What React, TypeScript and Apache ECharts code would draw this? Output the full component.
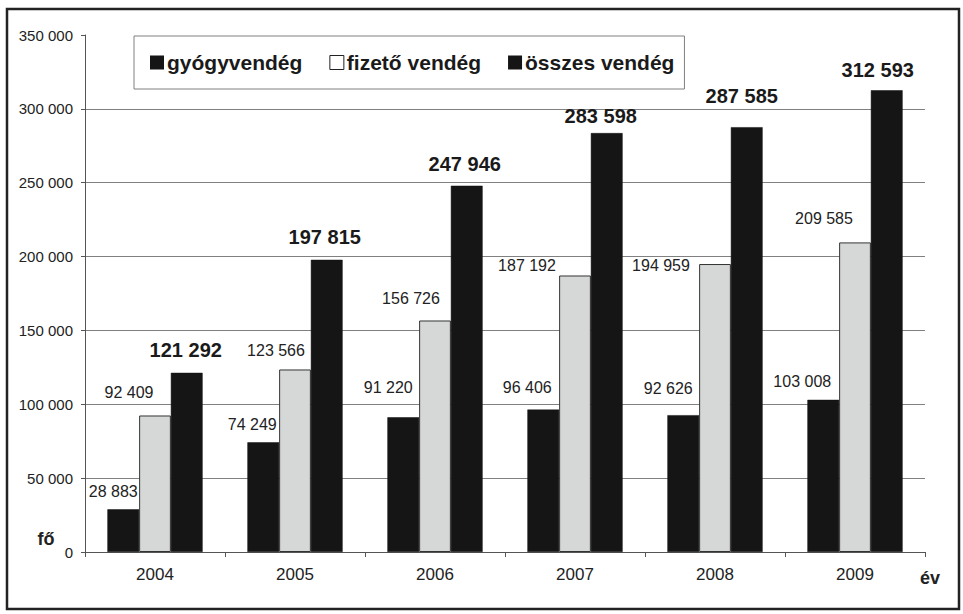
import React, { useEffect, useRef } from "react";
import * as echarts from "echarts";

const years = ["2004", "2005", "2006", "2007", "2008", "2009"];
const gyogyvendeg = [28883, 74249, 91220, 96406, 92626, 103008];
const fizetoVendeg = [92409, 123566, 156726, 187192, 194959, 209585];
const osszesVendeg = [121292, 197815, 247946, 283598, 287585, 312593];
const seriesNames = ["gyógyvendég", "fizető vendég", "összes vendég"];
const yMin = 0;
const yMax = 350000;
const yStep = 50000;

// label nudges (style only): [dx, px above bar top]
const gyogyLabelShift = [[-10, 18], [-11, 18], [-15, 30], [-16, 22], [-15, 27], [-21, 18]];
const fizetoLabelShift = [[-26, 23], [-19, 19], [-24, 22], [-48, 10], [-54, -1], [-31, 24]];
const osszesLabelShift = [[-1, 23], [-2, 23], [-2, 22], [-6, 17], [-5, 31], [-9, 20]];

const FONT = "Liberation Sans, Arial, sans-serif";
const DARK = "#151515";
const LIGHT = "#d6d8d8";
const TEXT = "#222";

const fmt = (n: number) => String(n).replace(/\B(?=(\d{3})+(?!\d))/g, " ");

function withShift(values: number[], shifts: number[][]) {
  return values.map((v, i) => ({
    value: v,
    label: { offset: [shifts[i][0], -shifts[i][1]] },
  }));
}

export default function App() {
  const ref = useRef<HTMLDivElement>(null);
  useEffect(() => {
    if (!ref.current) return;
    const chart = echarts.init(ref.current, undefined, { renderer: "svg" });
    const baseLabel = {
      show: true,
      position: "top",
      distance: 0,
      align: "center",
      verticalAlign: "middle",
      fontFamily: FONT,
      fontSize: 16,
      color: TEXT,
      formatter: (p: any) => fmt(p.value),
    };
    const gridColors = [];
    for (let v = yMin; v <= yMax; v += yStep) gridColors.push(v === yMax ? "rgba(0,0,0,0)" : "#808080");
    chart.setOption({
      animation: false,
      backgroundColor: "#fff",
      textStyle: { fontFamily: FONT },
      grid: { left: 85, right: 38, top: 35, bottom: 62, containLabel: false },
      legend: {
        left: 134,
        top: 36,
        padding: [16, 10, 16, 16],
        itemWidth: 14,
        itemHeight: 14,
        itemGap: 27,
        borderColor: "#808080",
        borderWidth: 1,
        backgroundColor: "#fff",
        textStyle: { fontFamily: FONT, fontSize: 21, fontWeight: "bold", color: "#1a1a1a", padding: [0, 0, 0, -2] },
        data: [
          { name: seriesNames[0], icon: "rect", itemStyle: { color: DARK, borderWidth: 0 } },
          { name: seriesNames[1], icon: "rect", itemStyle: { color: "#fff", borderColor: "#222", borderWidth: 1 } },
          { name: seriesNames[2], icon: "rect", itemStyle: { color: DARK, borderWidth: 0 } },
        ],
      },
      xAxis: {
        type: "category",
        data: years,
        axisLine: { lineStyle: { color: "#555", width: 1 } },
        axisTick: { show: true, length: 5, lineStyle: { color: "#555" } },
        axisLabel: { fontFamily: FONT, fontSize: 17, color: TEXT, margin: 14 },
      },
      yAxis: {
        type: "value",
        min: yMin,
        max: yMax,
        interval: yStep,
        axisLine: { show: true, lineStyle: { color: "#555", width: 1 } },
        axisTick: { show: true, length: 4, lineStyle: { color: "#555" } },
        axisLabel: { fontFamily: FONT, fontSize: 15, color: TEXT, margin: 12, formatter: (v: number) => fmt(v) },
        splitLine: { show: true, lineStyle: { color: gridColors, width: 1 } },
      },
      series: [
        {
          name: seriesNames[0],
          type: "bar",
          barGap: "0%",
          barCategoryGap: "32%",
          itemStyle: { color: DARK, borderColor: "#111", borderWidth: 0.5 },
          label: { ...baseLabel },
          data: withShift(gyogyvendeg, gyogyLabelShift),
        },
        {
          name: seriesNames[1],
          type: "bar",
          barGap: "0%",
          barCategoryGap: "32%",
          itemStyle: { color: LIGHT, borderColor: "#333", borderWidth: 1 },
          label: { ...baseLabel },
          data: withShift(fizetoVendeg, fizetoLabelShift),
        },
        {
          name: seriesNames[2],
          type: "bar",
          barGap: "0%",
          barCategoryGap: "32%",
          itemStyle: { color: DARK, borderColor: "#111", borderWidth: 0.5 },
          label: { ...baseLabel, fontSize: 20, fontWeight: "bold", color: "#1a1a1a" },
          data: withShift(osszesVendeg, osszesLabelShift),
        },
      ],
      graphic: [
        {
          type: "rect",
          shape: { x: 7, y: 9, width: 952, height: 600 },
          style: { fill: "none", stroke: "#222", lineWidth: 2.5 },
          silent: true,
          z: 100,
        },
        {
          type: "text",
          x: 46,
          y: 539,
          style: { text: "fő", fontFamily: FONT, fontSize: 18, fontWeight: "bold", fill: TEXT, align: "center", verticalAlign: "middle" },
        },
        {
          type: "text",
          x: 930,
          y: 578,
          style: { text: "év", fontFamily: FONT, fontSize: 18, fontWeight: "bold", fill: TEXT, align: "center", verticalAlign: "middle" },
        },
      ],
    });
    return () => chart.dispose();
  }, []);
  return (
    <div
      ref={ref}
      style={{ position: "absolute", left: 0, top: 0, width: 963, height: 614, background: "#fff" }}
    />
  );
}
